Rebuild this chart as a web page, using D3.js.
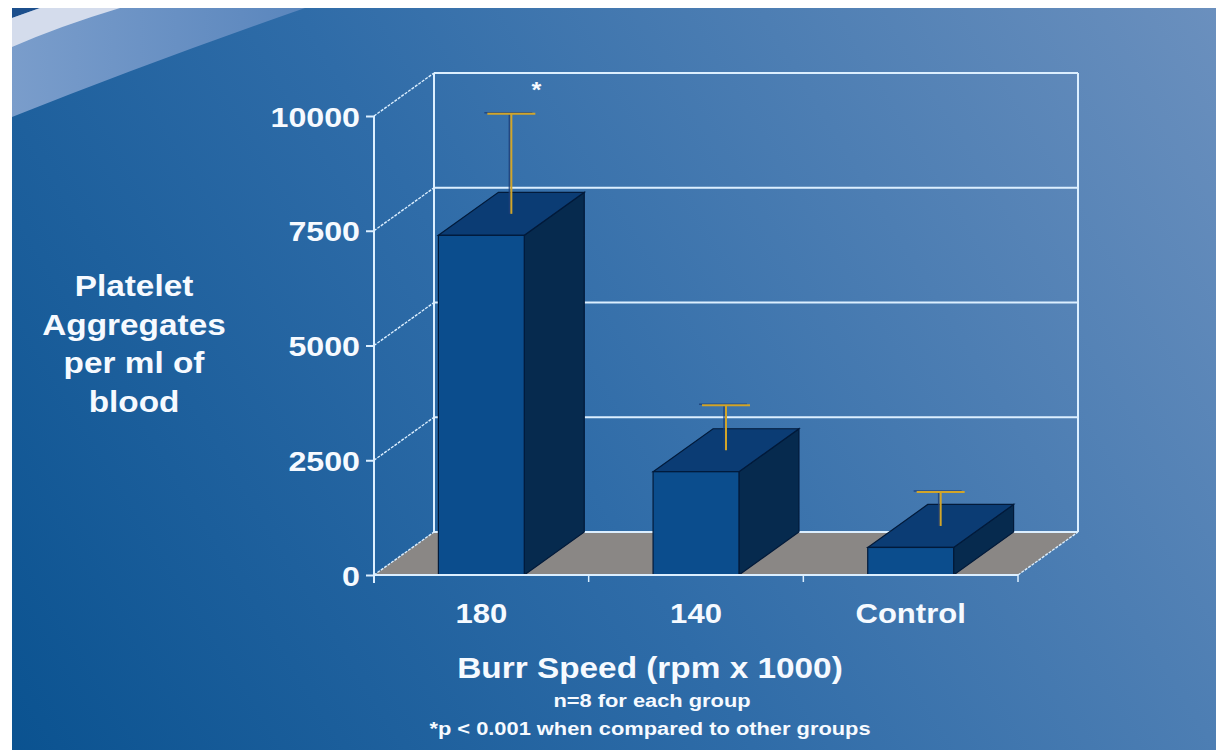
<!DOCTYPE html>
<html>
<head>
<meta charset="utf-8">
<script src="https://cdn.jsdelivr.net/npm/d3@7"></script>
<style>
  html, body { margin: 0; padding: 0; background: #ffffff; }
  svg { display: block; }
  text { font-family: "Liberation Sans", Arial, sans-serif; font-weight: bold; fill: #f6faff; }
</style>
</head>
<body>
<svg id="chart" width="1216" height="750"></svg>
<script>
// ---- data ----
const categories = ["180", "140", "Control"];
const values = [7400, 2250, 600];
const errors = [2180, 980, 740];
const sigMarks = ["*", "", ""];
const yTicks = [0, 2500, 5000, 7500, 10000];
const yTitleLines = ["Platelet", "Aggregates", "per ml of", "blood"];
const xTitle = "Burr Speed (rpm x 1000)";
const notes = ["n=8 for each group", "*p < 0.001 when compared to other groups"];

// ---- layout ----
const W = 1216, H = 750;
const DX = 60, DY = -43;          // depth offset of the 3D box
const SX = 1.15;                  // horizontal text stretch of the original slide
const svg = d3.select("#chart");
const defs = svg.append("defs");

const bg = defs.append("linearGradient").attr("id", "bg")
  .attr("gradientUnits", "userSpaceOnUse")
  .attr("x1", 0).attr("y1", H).attr("x2", W).attr("y2", 0);
bg.append("stop").attr("offset", 0).attr("stop-color", "#0a5290");
bg.append("stop").attr("offset", 0.45).attr("stop-color", "#2f6ca8");
bg.append("stop").attr("offset", 1).attr("stop-color", "#6b90be");

const sw = defs.append("linearGradient").attr("id", "swoosh")
  .attr("x1", 0).attr("y1", 0).attr("x2", 1).attr("y2", 0);
sw.append("stop").attr("offset", 0).attr("stop-color", "#7a9dcb");
sw.append("stop").attr("offset", 1).attr("stop-color", "#5a86bd");

// background
svg.append("rect").attr("x", 12).attr("y", 8).attr("width", W - 12).attr("height", H - 8).attr("fill", "url(#bg)");
svg.append("path").attr("d", "M12,8 L305,8 Q150,62 12,117 Z").attr("fill", "url(#swoosh)");
svg.append("path").attr("d", "M12,8 L40,8 L12,18 Z").attr("fill", "#1c4f8c");
svg.append("path").attr("d", "M12,18 L40,8 L120,8 Q60,26 12,47 Z").attr("fill", "#d4dcec");

// scales
const x = d3.scaleBand().domain(categories).range([374, 1018]).paddingInner(0.6).paddingOuter(0.3);
const y = d3.scaleLinear().domain([0, 10000]).range([575, 116]);
const x0 = x.range()[0], x1 = x.range()[1];
const gap = (x.step() - x.bandwidth()) / 2;

const grid = "#dcefff";
const g = svg.append("g");

// floor
g.append("path")
  .attr("d", `M${x0},${y(0)} L${x0 + DX},${y(0) + DY} L${x1 + DX},${y(0) + DY} L${x1},${y(0)} Z`)
  .attr("fill", "#8a8785");

// back wall gridlines
g.selectAll("line.grid").data(yTicks).join("line")
  .attr("x1", x0 + DX).attr("x2", x1 + DX)
  .attr("y1", d => y(d) + DY).attr("y2", d => y(d) + DY)
  .attr("stroke", grid).attr("stroke-width", 2);
// back wall verticals
g.append("line").attr("x1", x0 + DX).attr("x2", x0 + DX).attr("y1", y(10000) + DY).attr("y2", y(0) + DY)
  .attr("stroke", grid).attr("stroke-width", 2);
g.append("line").attr("x1", x1 + DX).attr("x2", x1 + DX).attr("y1", y(10000) + DY).attr("y2", y(0) + DY)
  .attr("stroke", grid).attr("stroke-width", 2);
// side wall diagonals
g.selectAll("line.diag").data(yTicks).join("line")
  .attr("x1", x0).attr("x2", x0 + DX)
  .attr("y1", d => y(d)).attr("y2", d => y(d) + DY)
  .attr("stroke", grid).attr("stroke-width", 1.4).attr("stroke-dasharray", "3,1.2");
// floor right diagonal
g.append("line").attr("x1", x1).attr("x2", x1 + DX).attr("y1", y(0)).attr("y2", y(0) + DY)
  .attr("stroke", grid).attr("stroke-width", 1.4).attr("stroke-dasharray", "3,1.2");

// bars
const outline = "#021a3a";
const bars = g.selectAll("g.bar").data(categories).join("g");
bars.each(function (c, i) {
  const sel = d3.select(this);
  const l = x(c), r = x(c) + x.bandwidth(), t = y(values[i]), b = y(0);
  // side
  sel.append("path").attr("d", `M${r},${b} L${r + DX},${b + DY} L${r + DX},${t + DY} L${r},${t} Z`)
    .attr("fill", "#062a4e").attr("stroke", outline).attr("stroke-width", 1.2);
  // top
  sel.append("path").attr("d", `M${l},${t} L${l + DX},${t + DY} L${r + DX},${t + DY} L${r},${t} Z`)
    .attr("fill", "#0b3c74").attr("stroke", outline).attr("stroke-width", 1.2);
  // front
  sel.append("rect").attr("x", l).attr("y", t).attr("width", x.bandwidth()).attr("height", b - t)
    .attr("fill", "#0b4d8d").attr("stroke", outline).attr("stroke-width", 1.2);
});

// error bars (drawn at mid depth)
const ex = c => x(c) + x.bandwidth() / 2 + DX * 0.5;
const ey = v => y(v) + DY * 0.5;
const eb = g.selectAll("g.err").data(categories).join("g");
eb.append("line").attr("x1", c => ex(c) - 2).attr("x2", c => ex(c) - 2)
  .attr("y1", (c, i) => ey(values[i])).attr("y2", (c, i) => ey(values[i] + errors[i]))
  .attr("stroke", "#1d3f7a").attr("stroke-width", 1.5).attr("opacity", 0.8);
eb.append("line").attr("x1", c => ex(c) - 27).attr("x2", c => ex(c) + 21)
  .attr("y1", (c, i) => ey(values[i] + errors[i]) - 1).attr("y2", (c, i) => ey(values[i] + errors[i]) - 1)
  .attr("stroke", "#1d3f7a").attr("stroke-width", 1.5).attr("opacity", 0.8);
eb.append("line").attr("x1", ex).attr("x2", ex)
  .attr("y1", (c, i) => ey(values[i])).attr("y2", (c, i) => ey(values[i] + errors[i]))
  .attr("stroke", "#d1a52a").attr("stroke-width", 2);
eb.append("line").attr("x1", c => ex(c) - 24).attr("x2", c => ex(c) + 24)
  .attr("y1", (c, i) => ey(values[i] + errors[i])).attr("y2", (c, i) => ey(values[i] + errors[i]))
  .attr("stroke", "#d1a52a").attr("stroke-width", 2);

// significance marks
g.selectAll("text.sig").data(categories).join("text")
  .attr("transform", (c, i) => `translate(${ex(c) + 25},${ey(values[i] + errors[i]) - 17}) scale(${SX},1)`)
  .attr("text-anchor", "middle").attr("font-size", 22)
  .text((c, i) => sigMarks[i]);

// front y axis
const yAxis = svg.append("g").attr("transform", `translate(${x0},0)`)
  .call(d3.axisLeft(y).tickValues(yTicks).tickSize(8).tickPadding(6).tickFormat(d3.format("d")));
yAxis.select(".domain").attr("stroke", grid).attr("stroke-width", 2).attr("d", `M0,${y(10000)}V${y(0) + 8}`);
yAxis.selectAll(".tick line").attr("stroke", grid).attr("stroke-width", 2);
yAxis.selectAll(".tick text")
  .attr("x", null).attr("dy", null)
  .attr("transform", `translate(-14,10) scale(${SX},1)`)
  .attr("font-size", 28).attr("fill", "#f6faff")
  .attr("font-family", "'Liberation Sans', Arial, sans-serif").attr("font-weight", "bold");

// front floor edge + category boundary ticks
svg.append("line").attr("x1", x0).attr("x2", x1).attr("y1", y(0)).attr("y2", y(0))
  .attr("stroke", grid).attr("stroke-width", 2);
const bounds = categories.map(c => x(c) - gap).concat([x1]);
svg.selectAll("line.xt").data(bounds.slice(1)).join("line")
  .attr("x1", d => d).attr("x2", d => d).attr("y1", y(0)).attr("y2", y(0) + 7)
  .attr("stroke", grid).attr("stroke-width", 1.5);

// x category labels
const xAxis = svg.append("g").attr("transform", `translate(0,${y(0)})`)
  .call(d3.axisBottom(x).tickSize(0).tickPadding(0));
xAxis.select(".domain").remove();
xAxis.selectAll(".tick text")
  .attr("y", null).attr("dy", null)
  .attr("transform", `translate(0,48) scale(${SX},1)`)
  .attr("font-size", 27).attr("fill", "#f6faff")
  .attr("font-family", "'Liberation Sans', Arial, sans-serif").attr("font-weight", "bold");

// y title
svg.selectAll("text.ytitle").data(yTitleLines).join("text")
  .attr("transform", (d, i) => `translate(134,${296 + i * 38.5}) scale(${SX},1)`)
  .attr("text-anchor", "middle").attr("font-size", 29).text(d => d);

// x title + notes
svg.append("text").attr("transform", `translate(650,678) scale(${SX},1)`)
  .attr("text-anchor", "middle").attr("font-size", 29).text(xTitle);
svg.selectAll("text.note").data(notes).join("text")
  .attr("transform", (d, i) => `translate(${i === 0 ? 652 : 650},${707 + i * 28}) scale(${SX},1)`)
  .attr("text-anchor", "middle").attr("font-size", 19).text(d => d);
</script>
</body>
</html>
